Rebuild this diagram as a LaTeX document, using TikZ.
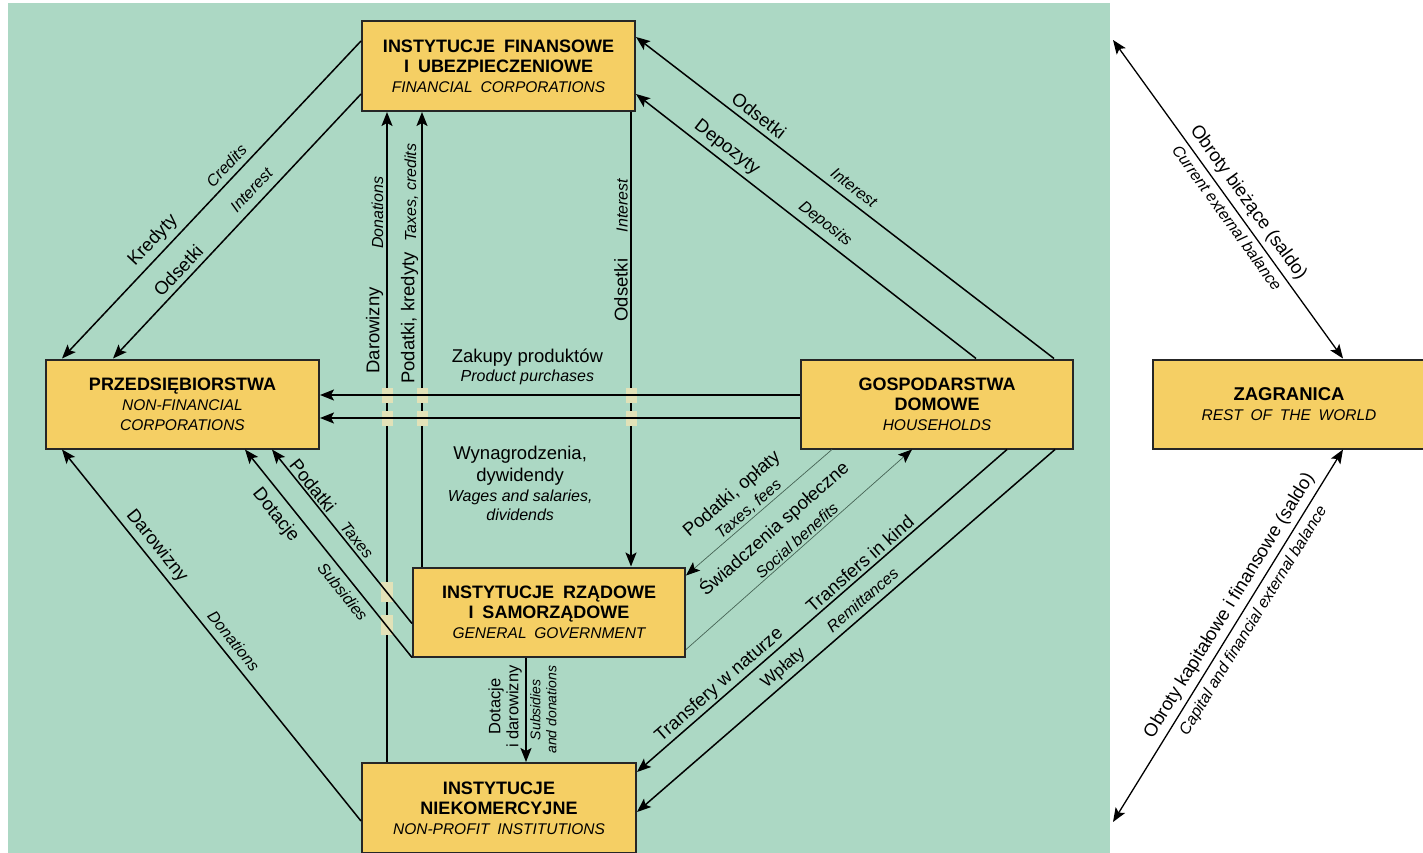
\documentclass[tikz,border=0pt]{standalone}
\usepackage{fontspec}
\setmainfont{Liberation Sans}
\usetikzlibrary{arrows.meta}
\definecolor{bg}{RGB}{172,216,196}
\definecolor{boxfill}{RGB}{245,207,100}
\definecolor{pale}{RGB}{226,226,184}
\definecolor{thinc}{RGB}{70,100,85}
\newcommand\plf{\fontsize{18.5}{20}\selectfont}
\newcommand\enf{\fontsize{16}{18}\selectfont\itshape}
\newcommand\bxi{\fontsize{15.5}{19}\selectfont\mdseries\itshape}
\begin{document}
\begin{tikzpicture}[x=1pt,y=-1pt,
 box/.style={draw=black!85, line width=2pt, fill=boxfill, align=center, inner sep=0pt,
   minimum width=273pt, minimum height=89pt, font=\fontsize{18}{20}\selectfont\bfseries},
 tip/.style={-{Stealth[length=14pt,width=11pt,inset=3pt,color=black]}},
 arr/.style={line width=1.5pt, tip},
 darr/.style={line width=1.3pt, {Stealth[length=14pt,width=11pt,inset=3pt]}-{Stealth[length=14pt,width=11pt,inset=3pt]}},
 thinarr/.style={line width=0.7pt, draw=thinc, tip},
 pl/.style={font=\plf, inner sep=2pt, sloped},
 en/.style={font=\enf, inner sep=2pt, sloped},
 patch/.style={fill=pale, draw=none, minimum width=11pt, minimum height=15pt, inner sep=0pt},
 bigpatch/.style={patch, minimum width=12pt, minimum height=20pt},
]
\useasboundingbox (0,0) rectangle (1423,853);
\fill[white] (0,0) rectangle (1423,853);
\fill[bg] (8,3) rectangle (1110,853);

% boxes
\node[box, minimum height=90pt] (fc) at (498.5,66)
  {INSTYTUCJE\hspace{0.5em}FINANSOWE\\I\hspace{0.5em}UBEZPIECZENIOWE\\{\bxi FINANCIAL\hspace{0.5em}CORPORATIONS}};
\node[box] (nfc) at (182.5,404)
  {PRZEDSIĘBIORSTWA\\{\bxi NON-FINANCIAL}\\{\bxi CORPORATIONS}};
\node[box, minimum width=272pt] (hh) at (937,404)
  {GOSPODARSTWA\\DOMOWE\\{\bxi HOUSEHOLDS}};
\node[box, minimum width=272pt] (gg) at (549,612)
  {INSTYTUCJE\hspace{0.5em}RZĄDOWE\\I\hspace{0.5em}SAMORZĄDOWE\\{\bxi GENERAL\hspace{0.5em}GOVERNMENT}};
\node[box, minimum width=274pt, minimum height=90pt] (npi) at (499,808)
  {INSTYTUCJE\\NIEKOMERCYJNE\\{\bxi NON-PROFIT\hspace{0.5em}INSTITUTIONS}};
\node[box, minimum width=272pt] (row) at (1289,404)
  {\fontsize{18.5}{20}\selectfont ZAGRANICA\\{\bxi REST\hspace{0.5em}OF\hspace{0.5em}THE\hspace{0.5em}WORLD}};

% vertical connectors (drawn under crossing patches)
\draw[arr] ([xshift=26pt]npi.north west) -- ([xshift=26pt]fc.south west)
  node[pl, pos=.664, above=1pt] (ldar) {Darowizny}
  node[en, pos=.845, above=1pt] (ldon) {Donations};
\draw[arr] ([xshift=10pt]gg.north west) -- ([xshift=61pt]fc.south west)
  node[pl, pos=.547, above=1pt] (lpk) {Podatki, kredyty}
  node[en, pos=.822, above=1pt] (ltc) {Taxes, credits};
\draw[arr] ([xshift=-5pt]fc.south east) -- ([xshift=219pt]gg.north west);
\path ([xshift=219pt]gg.north west) -- ([xshift=-5pt]fc.south east)
  node[pl, pos=.608, above=1pt] (lods) {Odsetki}
  node[en, pos=.794, above=1pt] (lint) {Interest};

% crossing patches
\node[patch] (p1) at (387,395) {};
\node[patch] (p2) at (387,418) {};
\node[patch] (p3) at (422,395) {};
\node[patch] (p4) at (422,418) {};
\node[patch] (p5) at (631,395) {};
\node[patch] (p6) at (631,418) {};
\node[bigpatch] (p7) at (387,592) {};
\node[bigpatch] (p8) at (387,625) {};

% FC -> NFC
\draw[arr] ([yshift=-21pt]fc.north west) -- ([xshift=17pt]nfc.north west)
  node[pl, pos=.66, above=3pt] (lkr) {Kredyty}
  node[en, pos=.42, above=4pt] (lcr) {Credits};
\draw[arr] ([yshift=-74pt]fc.north west) -- ([xshift=68pt]nfc.north west)
  node[pl, pos=.70, above=3pt] (lods2) {Odsetki}
  node[en, pos=.40, above=6pt] (lint2) {Interest};

% HH -> FC
\draw[arr] ([xshift=254pt]hh.north west) -- ([yshift=-17pt]fc.north east)
  node[pl, pos=.724, above=3pt] (lods3) {Odsetki}
  node[en, pos=.498, above=5pt] (lint3) {Interest};
\draw[arr] ([xshift=176pt]hh.north west) -- ([yshift=-74pt]fc.north east)
  node[pl, pos=.757, above=2pt] (ldep) {Depozyty}
  node[en, pos=.468, above=3pt] (ldeps) {Deposits};

% HH -> NFC horizontal
\draw[arr] ([yshift=9pt]hh.west) -- ([yshift=9pt]nfc.east)
  node[pos=.568, above=7pt, align=center, font=\fontsize{18.5}{19}\selectfont, inner sep=2pt] (lzak)
  {Zakupy produktów\\{\enf Product purchases}};
\draw[arr] ([yshift=-14pt]hh.west) -- ([yshift=-14pt]nfc.east)
  node[pos=.583, below=25pt, align=center, font=\fontsize{18.5}{22}\selectfont, inner sep=2pt] (lwyn)
  {Wynagrodzenia,\\dywidendy\\[-2pt]{\fontsize{16}{20}\selectfont\itshape Wages and salaries,}\\[-3pt]{\fontsize{16}{18}\selectfont\itshape dividends}};

% GG -> NFC
\draw[arr] ([yshift=34pt]gg.south west) -- ([xshift=227pt]nfc.south west)
  node[pl, pos=.76, above=0pt] (lpod) {Podatki}
  node[en, pos=.446, above=1pt] (ltax) {Taxes};
\draw[arr] (gg.south west) -- ([xshift=200pt]nfc.south west)
  node[pl, pos=.736, below=6pt] (ldot) {Dotacje}
  node[en, pos=.355, below=4pt] (lsub) {Subsidies};

% NPI -> NFC
\draw[arr] ([yshift=-59pt]npi.north west) -- ([xshift=17pt]nfc.south west)
  node[pl, pos=.718, above=2pt] (ldar2) {Darowizny}
  node[en, pos=.461, above=5pt] (ldon2) {Donations};

% HH <-> GG thin
\draw[thinarr] ([xshift=32pt]hh.south west) -- ([yshift=-9pt]gg.north east)
  node[pl, pos=.545, above=20pt] (lpo) {Podatki, opłaty}
  node[en, pos=.53, above=0pt] (ltf) {Taxes, fees};
\draw[thinarr] ([yshift=8pt]gg.south east) -- ([xshift=112pt]hh.south west)
  node[pl, pos=.484, above=20pt] (lsw) {Świadczenia społeczne}
  node[en, pos=.514, above=0pt] (lsb) {Social benefits};

% HH -> NPI
\draw[arr] ([xshift=207pt]hh.south west) -- ([yshift=-10pt]npi.north east)
  node[pl, pos=.379, above=1pt] (ltik) {Transfers in kind}
  node[pl, pos=.757, above=0pt] (ltwn) {Transfery w naturze};
\draw[arr] ([xshift=255pt]hh.south west) -- ([yshift=-50pt]npi.north east)
  node[en, pos=.441, above=4pt] (lrem) {Remittances}
  node[pl, font=\fontsize{17}{19}\selectfont, pos=.63, above=2pt] (lwpl) {Wpłaty};

% GG -> NPI
\draw[arr] ([xshift=114pt]gg.south west) -- ([xshift=165pt]npi.north west);
\path ([xshift=165pt]npi.north west) -- ([xshift=114pt]gg.south west)
  node[sloped, pos=.53, above=2pt, align=center, inner sep=2pt, font=\fontsize{16.5}{18}\selectfont] (ldd)
  {Dotacje\\i darowizny}
  node[sloped, pos=.5, below=2pt, align=center, inner sep=2pt, font=\fontsize{14}{16}\selectfont\itshape] (lsd)
  {Subsidies\\and donations};

% external
\coordinate (o1) at (1113,40);
\coordinate (o2) at (1113,822);
\draw[darr] (o1) -- ([xshift=191pt]row.north west)
  node[pl, pos=.537, above=3pt] (lob) {Obroty bieżące (saldo)}
  node[en, pos=.537, below=3pt] (lceb) {Current external balance};
\draw[darr] ([xshift=191pt]row.south west) -- (o2)
  node[pl, pos=.44, above=3pt] (lokf) {Obroty kapitałowe i finansowe (saldo)}
  node[en, pos=.44, below=4pt] (lcfe) {Capital and financial external balance};
\end{tikzpicture}
\end{document}
